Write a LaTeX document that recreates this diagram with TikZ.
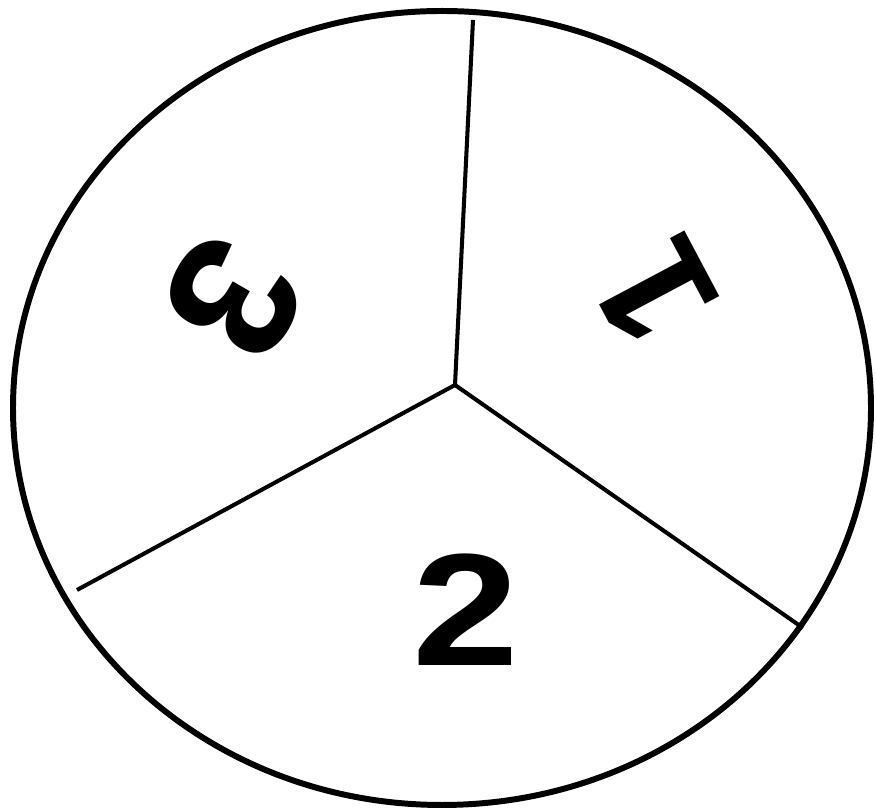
\documentclass[tikz,border=0pt]{standalone}
\usepackage{fontspec}
\setmainfont{Liberation Sans}
\begin{document}
\begin{tikzpicture}[x=0.02cm, y=0.02cm, digit/.style={font=\fontsize{91}{91}\selectfont\bfseries, inner sep=0pt}]
\useasboundingbox (0,0) rectangle (876,810);
\draw[line width=3.4pt] (442,402) ellipse [x radius=429, y radius=397];
\coordinate (c) at (455,425);
\coordinate (top) at (473,790);
\coordinate (left) at (77,220);
\coordinate (right) at (803,182);
\draw[line width=2.3pt] (c) -- (top);
\draw[line width=2.3pt] (c) -- (left);
\draw[line width=2.3pt] (c) -- (right);
\node[digit, rotate=118] (one) at (655,518) {1};
\node[digit, xscale=1.2] (two) at (466,200) {2};
\node[digit, scale=1.12, rotate=-120] (three) at (234,512) {3};
\end{tikzpicture}
\end{document}
